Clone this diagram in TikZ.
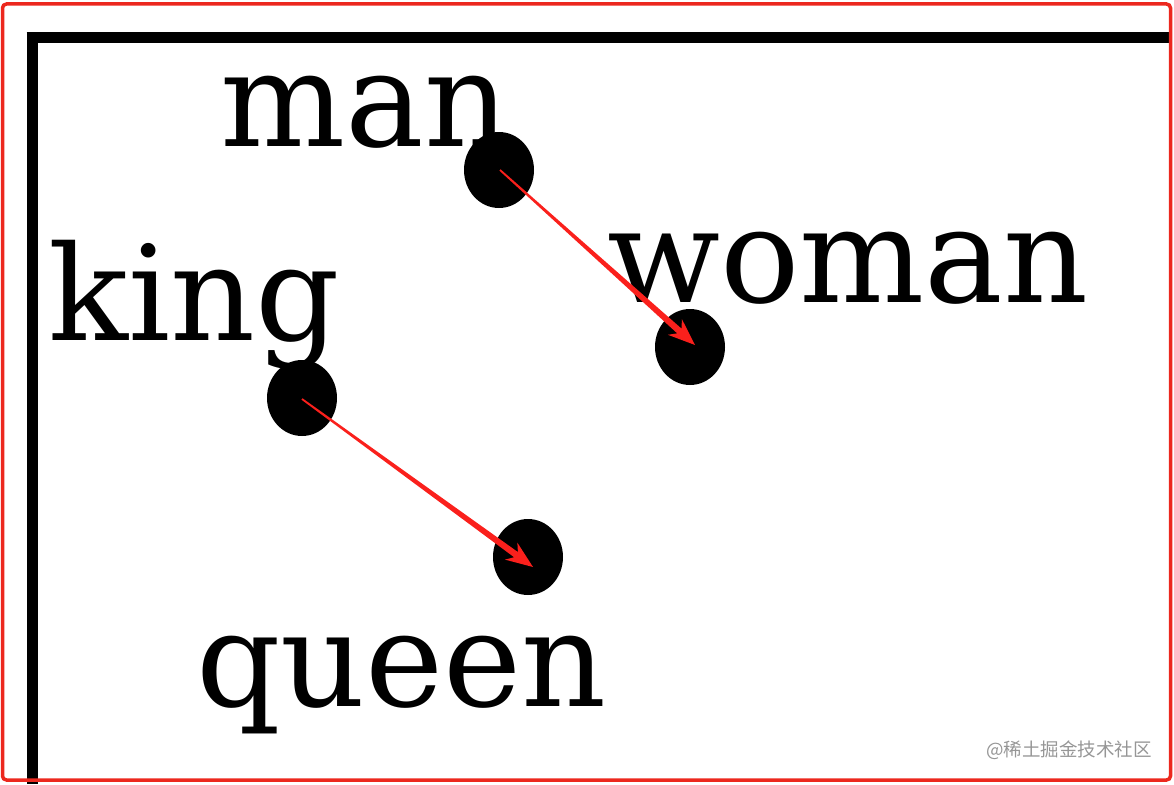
\documentclass[tikz,border=0pt]{standalone}
\usepackage{fontspec}
\setmainfont{DejaVu Serif}
\newfontfamily\cjk{Noto Sans CJK SC}
\usetikzlibrary{shapes.geometric,calc}
\definecolor{borderred}{RGB}{236,40,30}
\definecolor{arrowred}{RGB}{250,32,28}
\definecolor{wmgray}{RGB}{150,150,150}
\tikzset{
  word/.style={anchor=base west,inner sep=0pt,font=\fontsize{132}{132}\selectfont},
  dot/.style={ellipse,fill=black,inner sep=0pt,minimum width=70pt,minimum height=76pt},
  axis/.style={line width=11pt,line cap=butt,black},
}
\newcommand{\taparrow}[2]{%
  \coordinate (hb) at ($(#2)!27pt!(#1)$);
  \coordinate (hn) at ($(#2)!21pt!(#1)$);
  \fill[arrowred] ($(#1)!0.9pt!90:(#2)$) -- ($(hn)!3.2pt!-90:(#1)$) -- ($(hb)!10.5pt!-90:(#1)$) -- (#2)
     -- ($(hb)!10.5pt!90:(#1)$) -- ($(hn)!3.2pt!90:(#1)$) -- ($(#1)!0.9pt!-90:(#2)$) -- cycle;%
}
\begin{document}
\begin{tikzpicture}[x=1pt,y=-1pt]
\useasboundingbox (0,0) rectangle (1174,784);
% axes
\coordinate (corner) at (32,38);
\coordinate (xend) at (1169,38);
\coordinate (yend) at (32,784);
\draw[axis] ($(corner)+(-5.5,0)$) -- (xend);
\draw[axis] ($(corner)+(0,-5.5)$) -- (yend);
% words
\node[word] (man) at (220,146) {man};
\node[word] (woman) at (607,302) {woman};
\node[word] (king) at (48,340) {king};
\node[word] (queen) at (196,706) {queen};
% dots
\node[dot] (dman) at (499,170) {};
\node[dot] (dwoman) at (690,347) {};
\node[dot] (dking) at (302,398) {};
\node[dot] (dqueen) at (528,557) {};
% arrows
\coordinate (s1) at ($(dman.center)+(1,0)$);
\coordinate (t1) at ($(dwoman.center)+(5,-2)$);
\coordinate (s2) at ($(dking.center)+(0,1)$);
\coordinate (t2) at ($(dqueen.center)+(5,10)$);
\taparrow{s1}{t1}
\taparrow{s2}{t2}
% watermark
\node[anchor=east,inner sep=0pt,text=wmgray,font=\cjk\fontsize{18.5}{18.5}\selectfont] (wm) at (1152,750) {@稀土掘金技术社区};
% border
\draw[borderred,line width=3.5pt,rounded corners=4pt] (2.5,4) rectangle (1170.5,780);
\end{tikzpicture}
\end{document}
